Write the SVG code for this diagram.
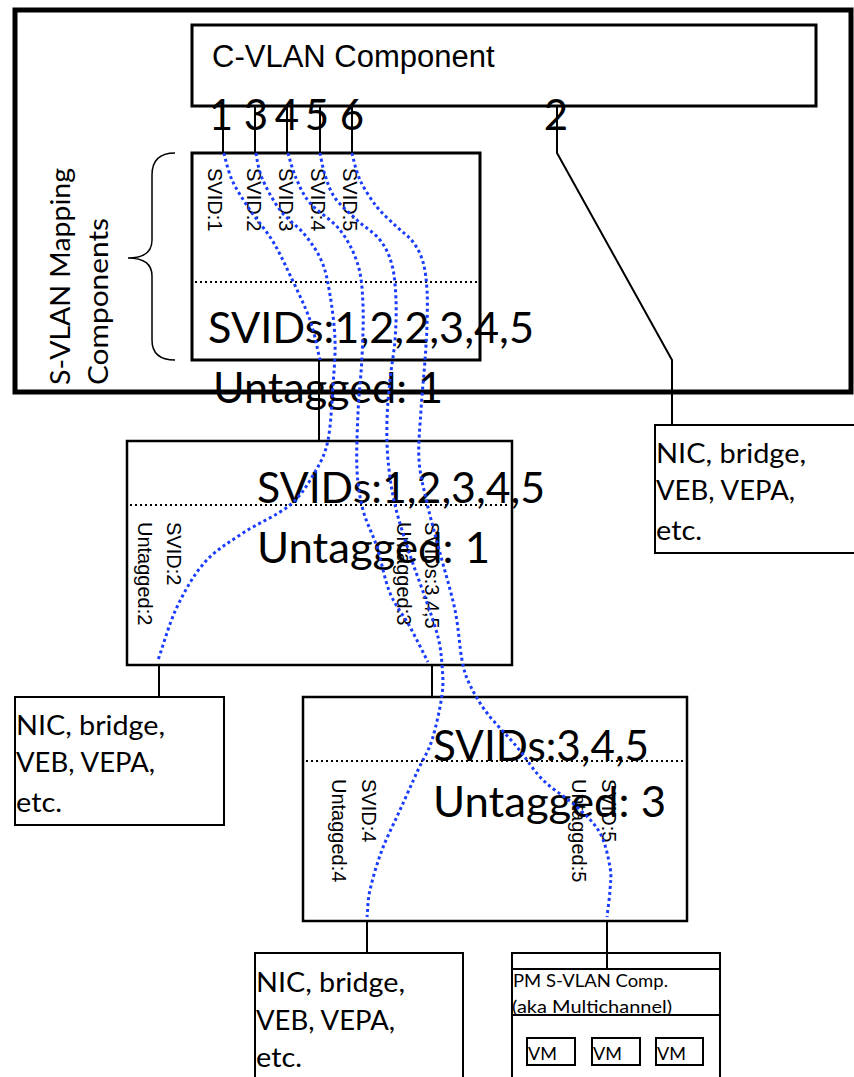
<svg xmlns="http://www.w3.org/2000/svg" width="854" height="1077" viewBox="0 0 854 1077">
<style>
.frame{fill:none;stroke:#000;stroke-width:5}
.box{fill:#fff;stroke:#000;stroke-width:2.5}
.thin{fill:#fff;stroke:#000;stroke-width:2}
.conn{fill:none;stroke:#000;stroke-width:2}
.hdot{fill:none;stroke:#000;stroke-width:2;stroke-dasharray:2 3}
.vlan{fill:none;stroke:#1a3cff;stroke-width:3;stroke-dasharray:3 3}
.ar{font-family:"Liberation Sans",Arial,sans-serif;fill:#000}
.ca{font-family:Lato,"Open Sans",sans-serif;fill:#000}
.rot{font-family:"Liberation Sans",Arial,sans-serif;font-size:20px;fill:#000}
.big{font-size:42px}
.nic{font-size:27px}
.dig{font-family:Lato,"DejaVu Sans",sans-serif;font-size:42px;text-anchor:middle;fill:#000}
</style>

<g id="bridge-frame">
<rect class="frame" x="15" y="10" width="836" height="382"/>
</g>

<g id="cvlan">
<rect x="192" y="25" width="624" height="81" fill="#fff" stroke="#000" stroke-width="3"/>
<text class="ar" x="212" y="67" font-size="31">C-VLAN Component</text>
</g>

<g id="connectors">
<line class="conn" x1="223" y1="106" x2="223" y2="153"/>
<line class="conn" x1="255" y1="106" x2="255" y2="153"/>
<line class="conn" x1="287" y1="106" x2="287" y2="153"/>
<line class="conn" x1="320" y1="106" x2="320" y2="153"/>
<line class="conn" x1="352" y1="106" x2="352" y2="153"/>
<polyline class="conn" points="557,106 557,153 672,360 672,425"/>
<line class="conn" x1="319" y1="360" x2="319" y2="441"/>
<line class="conn" x1="159" y1="665" x2="159" y2="697"/>
<line class="conn" x1="432" y1="665" x2="432" y2="697"/>
<line class="conn" x1="367" y1="921" x2="367" y2="953"/>
<line class="conn" x1="607" y1="921" x2="607" y2="969"/>
<line class="conn" x1="550" y1="1015" x2="550" y2="1038"/>
<line class="conn" x1="613" y1="1015" x2="613" y2="1038"/>
<line class="conn" x1="678" y1="1015" x2="678" y2="1038"/>
</g>

<g id="ports">
<text class="dig" x="221" y="130">1</text>
<text class="dig" x="256" y="130">3</text>
<text class="dig" x="287" y="130">4</text>
<text class="dig" x="317" y="130">5</text>
<text class="dig" x="352" y="130">6</text>
<text class="dig" x="556" y="130">2</text>
</g>

<g id="mapping-label">
<path d="M175,153 Q152,153 152,175 L152,240 Q152,258 128,258 Q152,258 152,276 L152,340 Q152,360 175,360" fill="none" stroke="#000" stroke-width="1.5"/>
<text class="ca" transform="translate(70,385) rotate(-90)" font-size="27" textLength="217" lengthAdjust="spacingAndGlyphs">S-VLAN Mapping</text>
<text class="ca" transform="translate(108,385) rotate(-90)" font-size="27" textLength="167" lengthAdjust="spacingAndGlyphs">Components</text>
</g>

<g id="svlan-mapping">
<rect x="192" y="153" width="288" height="207" fill="#fff" stroke="#000" stroke-width="3"/>
<line class="hdot" x1="195" y1="282" x2="478" y2="282"/>
<text class="rot" transform="translate(208,168) rotate(90)">SVID:1</text>
<text class="rot" transform="translate(247,168) rotate(90)">SVID:2</text>
<text class="rot" transform="translate(279,168) rotate(90)">SVID:3</text>
<text class="rot" transform="translate(311,168) rotate(90)">SVID:4</text>
<text class="rot" transform="translate(343,168) rotate(90)">SVID:5</text>
<text class="ca big" x="208" y="343" textLength="326" lengthAdjust="spacingAndGlyphs">SVIDs:1,2,2,3,4,5</text>
<text class="ca big" x="213" y="403" textLength="230" lengthAdjust="spacingAndGlyphs">Untagged: 1</text>
</g>

<g id="nic-top-right">
<rect class="thin" x="655" y="425" width="210" height="128"/>
<text class="ca nic" x="656" y="463" textLength="150" lengthAdjust="spacingAndGlyphs">NIC, bridge,</text>
<text class="ca nic" x="656" y="500" textLength="139" lengthAdjust="spacingAndGlyphs">VEB, VEPA,</text>
<text class="ca nic" x="656" y="540" textLength="46" lengthAdjust="spacingAndGlyphs">etc.</text>
</g>

<g id="svlan-mid">
<rect class="box" x="127" y="441" width="385" height="224"/>
<line class="hdot" x1="130" y1="505" x2="510" y2="505"/>
<text class="ca big" x="257" y="503" textLength="288" lengthAdjust="spacingAndGlyphs">SVIDs:1,2,3,4,5</text>
<text class="ca big" x="257" y="563" textLength="233" lengthAdjust="spacingAndGlyphs">Untagged: 1</text>
<text class="rot" transform="translate(167,522) rotate(90)">SVID:2</text>
<text class="rot" transform="translate(138,522) rotate(90)">Untagged:2</text>
<text class="rot" transform="translate(425,522) rotate(90)">SVIDs:3,4,5</text>
<text class="rot" transform="translate(397,522) rotate(90)">Untagged:3</text>
</g>

<g id="nic-left">
<rect class="thin" x="15" y="697" width="209" height="128"/>
<text class="ca nic" x="16" y="735" textLength="149" lengthAdjust="spacingAndGlyphs">NIC, bridge,</text>
<text class="ca nic" x="16" y="772" textLength="139" lengthAdjust="spacingAndGlyphs">VEB, VEPA,</text>
<text class="ca nic" x="16" y="812" textLength="46" lengthAdjust="spacingAndGlyphs">etc.</text>
</g>

<g id="svlan-low">
<rect class="box" x="303" y="697" width="384" height="224"/>
<line class="hdot" x1="306" y1="761" x2="685" y2="761"/>
<text class="ca big" x="433" y="761" textLength="216" lengthAdjust="spacingAndGlyphs">SVIDs:3,4,5</text>
<text class="ca big" x="433" y="817" textLength="233" lengthAdjust="spacingAndGlyphs">Untagged: 3</text>
<text class="rot" transform="translate(362,779) rotate(90)">SVID:4</text>
<text class="rot" transform="translate(332,779) rotate(90)">Untagged:4</text>
<text class="rot" transform="translate(602,779) rotate(90)">SVID:5</text>
<text class="rot" transform="translate(572,779) rotate(90)">Untagged:5</text>
</g>

<g id="nic-bottom">
<rect class="thin" x="255" y="953" width="208" height="140"/>
<text class="ca nic" x="256" y="992" textLength="149" lengthAdjust="spacingAndGlyphs">NIC, bridge,</text>
<text class="ca nic" x="256" y="1030" textLength="139" lengthAdjust="spacingAndGlyphs">VEB, VEPA,</text>
<text class="ca nic" x="256" y="1067" textLength="46" lengthAdjust="spacingAndGlyphs">etc.</text>
</g>

<g id="pm-station">
<rect class="thin" x="512" y="953" width="208" height="140"/>
<line class="conn" x1="512" y1="969" x2="720" y2="969"/>
<line class="conn" x1="512" y1="1015" x2="720" y2="1015"/>
<line class="conn" x1="607" y1="953" x2="607" y2="969"/>
<text class="ca" x="513" y="987" font-size="18" textLength="155" lengthAdjust="spacingAndGlyphs">PM S-VLAN Comp.</text>
<text class="ca" x="512" y="1013" font-size="18" textLength="160" lengthAdjust="spacingAndGlyphs">(aka Multichannel)</text>
</g>
<g id="vm1"><rect class="thin" x="527" y="1038" width="48" height="27"/><text class="ca" x="528" y="1060" font-size="18">VM</text></g>
<g id="vm2"><rect class="thin" x="592" y="1038" width="48" height="27"/><text class="ca" x="593" y="1060" font-size="18">VM</text></g>
<g id="vm3"><rect class="thin" x="656" y="1038" width="47" height="27"/><text class="ca" x="657" y="1060" font-size="18">VM</text></g>

<g id="vlan-paths">
<path class="vlan" d="M224,153 S227.7,170.5 232,180 S243.3,200 250,210 S265.3,229.2 272,240 S283.7,261.7 290,275 S305,305.8 310,320 S316.7,346.7 320,360"/>
<path class="vlan" d="M256,153 S258,168.5 262,178 S272.8,200.5 280,210 S298,226.3 305,235 S317.8,252 322,262 S327.8,282 330,295 S334.5,325 335,340 S334.2,368.3 333,385 S331,425.5 328,440 S321.3,461.2 315,472 S302,494.8 290,505 S257.2,523.5 243,533 S216,549.7 205,562 S184.8,590.7 177,607 S164.3,642.3 158,660"/>
<path class="vlan" d="M288,153 S292.3,169.7 296,178 S302.7,194.3 310,203 S332,219.7 340,230 S354.2,252.5 358,265 S362.3,289.7 363,305 S362.8,339 362,357 S358.8,394.2 358,413 S356.2,453.8 357,470 S359.7,497.2 363,510 S372.5,533.2 377,547 S384.5,579.7 390,593 S403.7,615.5 410,627 S422,650.3 428,662"/>
<path class="vlan" d="M320,153 S322.5,167.5 325,175 S329.7,190.5 335,198 S349.5,213 357,220 S374.2,232.5 380,240 S389.3,255 392,265 S395.5,287.5 396,300 S396,326.7 395,340 S391.3,366.7 390,380 S387.3,406.7 387,420 S386.7,445.8 388,460 S391.3,489.2 395,505 S404.8,539.2 410,555 S421.3,586.3 426,600 S435.3,626.2 438,637 S441.3,655.3 442,665 S443.7,682.5 442,695 S436,727.5 432,740 S423.3,758.3 418,770 S406,796.7 400,810 S387,836.7 382,850 S372.5,878.8 370,890 S368,908 367,917"/>
<path class="vlan" d="M352,153 S355.8,171 360,180 S370.8,199.2 377,207 S391,221.2 397,227 S408.7,236.2 413,242 S420.7,254 423,262 S426.3,279.5 427,290 S427.3,313.3 427,325 S426,345.8 425,360 S422,393.3 421,410 S418,444.5 419,460 S423.5,487.5 427,503 S435.3,535.2 440,553 S451.3,592.2 455,610 S459.5,647.5 462,660 S465.8,676.2 470,685 S479.2,702.7 487,713 S507.7,735.8 517,747 S533,770 543,780 S567.5,798.2 577,807 S594.5,823 600,833 S608.3,857.5 610,867 S610.5,881.7 610,890 S608,908 607,917"/>
</g>
</svg>
